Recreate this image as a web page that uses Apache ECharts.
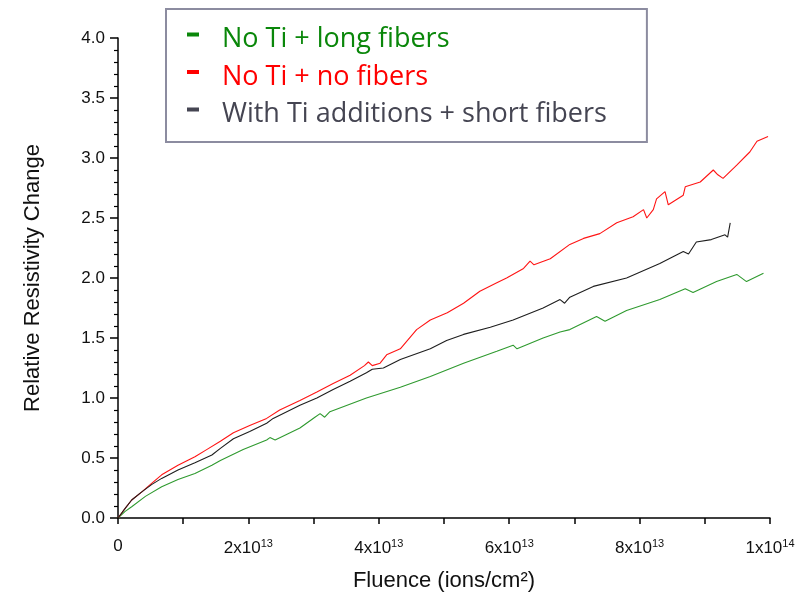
<!DOCTYPE html>
<html>
<head>
<meta charset="utf-8">
<script src="https://cdn.jsdelivr.net/npm/echarts@6/dist/echarts.min.js"></script>
<style>
  html, body { margin: 0; padding: 0; background: #fff; }
  #chart { width: 809px; height: 598px; }
</style>
</head>
<body>
<div id="chart"></div>
<script>
// Fluence in units of 1e13 ions/cm², relative resistivity change
const seriesNames = ['No Ti + long fibers', 'No Ti + no fibers', 'With Ti additions + short fibers'];

const longFibersX = [0, 0.11, 0.21, 0.42, 0.67, 0.92, 1.18, 1.44, 1.57, 1.92, 2.28, 2.33, 2.41, 2.79, 3.02, 3.10, 3.17, 3.25, 3.81, 4.33, 4.79, 5.30, 5.81, 6.06, 6.12, 6.52, 6.78, 6.93, 7.34, 7.47, 7.80, 8.31, 8.70, 8.82, 9.18, 9.49, 9.64, 9.90];
const longFibersY = [0, 0.055, 0.094, 0.18, 0.26, 0.32, 0.37, 0.44, 0.48, 0.57, 0.65, 0.67, 0.65, 0.75, 0.84, 0.87, 0.84, 0.886, 1.00, 1.09, 1.18, 1.29, 1.39, 1.44, 1.41, 1.50, 1.55, 1.57, 1.68, 1.64, 1.73, 1.82, 1.91, 1.88, 1.97, 2.03, 1.97, 2.04];

const noFibersX = [0, 0.11, 0.21, 0.37, 0.52, 0.67, 0.92, 1.18, 1.36, 1.57, 1.77, 2.02, 2.28, 2.48, 2.79, 3.05, 3.30, 3.56, 3.78, 3.84, 3.90, 4.02, 4.12, 4.33, 4.58, 4.79, 5.05, 5.30, 5.55, 5.81, 5.96, 6.22, 6.32, 6.38, 6.63, 6.93, 7.14, 7.39, 7.65, 7.90, 8.06, 8.11, 8.21, 8.26, 8.39, 8.44, 8.67, 8.70, 8.93, 9.13, 9.20, 9.28, 9.49, 9.69, 9.80, 9.97];
const noFibersY = [0, 0.08, 0.15, 0.22, 0.29, 0.36, 0.44, 0.51, 0.57, 0.64, 0.71, 0.77, 0.83, 0.90, 0.98, 1.05, 1.12, 1.19, 1.27, 1.30, 1.27, 1.29, 1.36, 1.41, 1.57, 1.65, 1.71, 1.79, 1.89, 1.96, 2.00, 2.08, 2.14, 2.11, 2.16, 2.28, 2.33, 2.37, 2.46, 2.51, 2.57, 2.50, 2.57, 2.66, 2.72, 2.61, 2.69, 2.76, 2.80, 2.90, 2.86, 2.83, 2.94, 3.05, 3.14, 3.18];

const shortFibersX = [0, 0.11, 0.21, 0.37, 0.52, 0.67, 0.92, 1.18, 1.44, 1.57, 1.77, 2.02, 2.28, 2.38, 2.79, 3.05, 3.30, 3.56, 3.81, 3.90, 4.07, 4.33, 4.79, 5.04, 5.30, 5.71, 6.06, 6.52, 6.78, 6.85, 6.93, 7.29, 7.80, 8.31, 8.67, 8.75, 8.87, 9.10, 9.31, 9.35, 9.39, 9.42];
const shortFibersY = [0, 0.08, 0.15, 0.22, 0.28, 0.33, 0.40, 0.46, 0.525, 0.58, 0.66, 0.72, 0.79, 0.83, 0.94, 1.00, 1.07, 1.14, 1.21, 1.24, 1.25, 1.32, 1.41, 1.48, 1.53, 1.59, 1.65, 1.75, 1.82, 1.79, 1.84, 1.93, 2.00, 2.12, 2.22, 2.20, 2.30, 2.32, 2.36, 2.34, 2.46, 2.46];

const xTickLabels = ['0', '', '2x10{sup|13}', '', '4x10{sup|13}', '', '6x10{sup|13}', '', '8x10{sup|13}', '', '1x10{sup|14}'];

const lineColors = ['#2f9a2f', '#ff1414', '#1e1e1e'];
const legendColors = ['#0a870a', '#ff0000', '#454552'];

function pairs(xs, ys) {
  return xs.map((x, i) => [x * 1e13, ys[i]]);
}

// short dash that sits a little above the text centre line
function dashIcon(color) {
  const svg = '<svg xmlns="http://www.w3.org/2000/svg" width="12" height="18">' +
    '<rect x="0" y="2" width="12" height="4" fill="' + color + '"/></svg>';
  return 'image://data:image/svg+xml;charset=utf-8,' + encodeURIComponent(svg);
}

const chart = echarts.init(document.getElementById('chart'), null, { renderer: 'canvas' });

const sansFont = 'Liberation Sans, Arial, sans-serif';

chart.setOption({
  animation: false,
  backgroundColor: '#fff',
  grid: { left: 118, right: 39, top: 38, bottom: 80 },
  legend: {
    orient: 'vertical',
    left: 166,
    top: 9,
    padding: [17, 40, 14, 21],
    backgroundColor: '#fff',
    borderColor: '#8c8ca0',
    borderWidth: 2,
    itemGap: 10.5,
    itemWidth: 12,
    itemHeight: 18,
    textStyle: { fontFamily: 'Open Sans, sans-serif', fontSize: 27, padding: [0, 0, 0, 18] },
    data: seriesNames.map((n, i) => ({ name: n, icon: dashIcon(legendColors[i]), textStyle: { color: legendColors[i] } }))
  },
  xAxis: {
    type: 'value',
    min: 0,
    max: 1e14,
    interval: 1e13,
    name: 'Fluence (ions/cm²)',
    nameLocation: 'middle',
    nameGap: 52,
    nameTextStyle: { color: '#111', fontFamily: sansFont, fontSize: 22 },
    axisLine: { lineStyle: { color: '#000', width: 1.5 } },
    axisTick: { length: 6, lineStyle: { color: '#000', width: 1.5 } },
    splitLine: { show: false },
    axisLabel: {
      color: '#111', fontFamily: sansFont, fontSize: 17,
      margin: 20,
      formatter: (v) => xTickLabels[Math.round(v / 1e13)],
      rich: {
        sup: { fontSize: 11, fontFamily: sansFont, color: '#111', verticalAlign: 'top', padding: [0, 0, 10, 0] }
      }
    }
  },
  yAxis: {
    type: 'value',
    min: 0,
    max: 4,
    interval: 0.5,
    name: 'Relative Resistivity Change',
    nameLocation: 'middle',
    nameGap: 74,
    nameTextStyle: { color: '#111', fontFamily: sansFont, fontSize: 22 },
    axisLine: { show: true, lineStyle: { color: '#000', width: 1.5 } },
    axisTick: { show: true, length: 8, lineStyle: { color: '#000', width: 1.5 } },
    minorTick: { show: true, splitNumber: 5, length: 4, lineStyle: { color: '#000', width: 1.2 } },
    splitLine: { show: false },
    axisLabel: { color: '#111', fontFamily: sansFont, fontSize: 17, margin: 13, formatter: (v) => v.toFixed(1) }
  },
  series: [
    { name: seriesNames[0], type: 'line', showSymbol: false, data: pairs(longFibersX, longFibersY), lineStyle: { color: lineColors[0], width: 1.1 }, itemStyle: { color: lineColors[0] }, z: 2 },
    { name: seriesNames[1], type: 'line', showSymbol: false, data: pairs(noFibersX, noFibersY), lineStyle: { color: lineColors[1], width: 1.1 }, itemStyle: { color: lineColors[1] }, z: 3 },
    { name: seriesNames[2], type: 'line', showSymbol: false, data: pairs(shortFibersX, shortFibersY), lineStyle: { color: lineColors[2], width: 1.1 }, itemStyle: { color: lineColors[2] }, z: 4 }
  ]
});
</script>
</body>
</html>
